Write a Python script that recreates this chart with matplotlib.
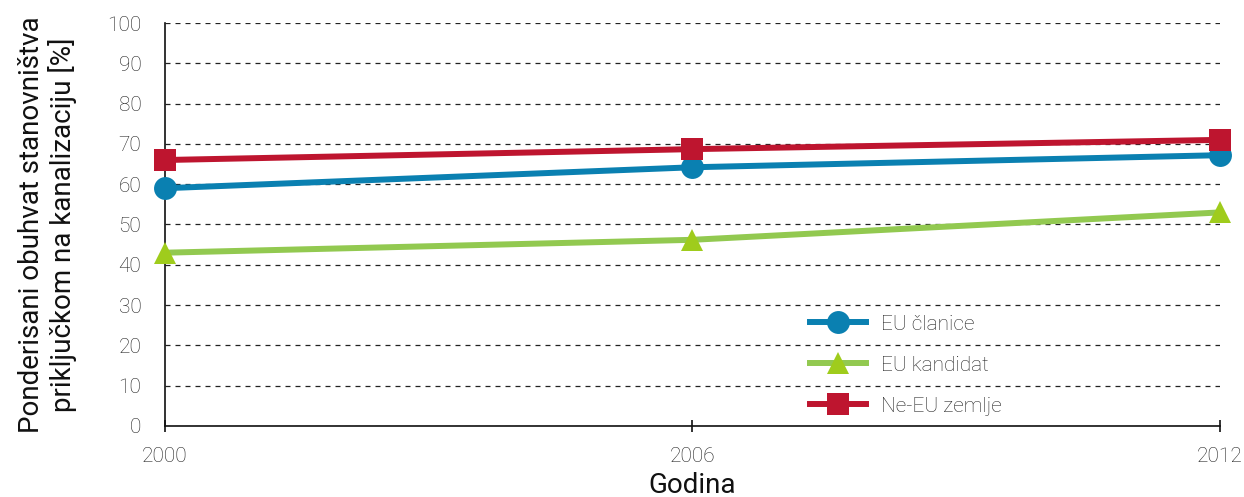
import matplotlib
matplotlib.use("Agg")
import matplotlib.pyplot as plt

plt.rcParams['font.family'] = ['Roboto', 'DejaVu Sans']

years = [2000, 2006, 2012]
eu_clanice = [59, 64.2, 67.2]
eu_kandidat = [43, 46.2, 53]
ne_eu = [66, 68.7, 71]

series_labels = ["EU članice", "EU kandidat", "Ne-EU zemlje"]
y_ticks = list(range(0, 101, 10))

blue = "#0a80b1"
green_line = "#92c950"
green_marker = "#9fcc1c"
red = "#be152f"

fig = plt.figure(figsize=(12.44, 4.97), dpi=100)
ax = fig.add_axes([0.1326, 0.1429, 0.8481, 0.8108])

lw = 4.3
ms = 16.5
common = dict(lw=lw, markersize=ms, zorder=3, clip_on=False)
ax.plot(years, eu_clanice, color=blue, marker='o',
        markerfacecolor=blue, markeredgecolor=blue, markeredgewidth=0,
        label=series_labels[0], **common)
ax.plot(years, eu_kandidat, color=green_line, marker='^',
        markerfacecolor=green_marker, markeredgecolor=green_marker, markeredgewidth=0,
        label=series_labels[1], **common)
ax.plot(years, ne_eu, color=red, marker='s',
        markerfacecolor=red, markeredgecolor=red, markeredgewidth=0,
        label=series_labels[2], **common)

ax.set_xlim(years[0], years[-1])
ax.set_ylim(0, 100)
ax.set_xticks(years)
ax.set_yticks(y_ticks)
ax.tick_params(axis='y', length=0, labelsize=15, colors='#222222', pad=17)
ax.tick_params(axis='x', length=8, direction='inout', width=1.2, color='#111111',
               labelsize=15, labelcolor='#222222', pad=11)
for lab in ax.get_xticklabels() + ax.get_yticklabels():
    lab.set_fontweight('light')

ax.grid(axis='y', linestyle=(0, (4, 4)), color='#222222', lw=0.9)
ax.set_axisbelow(True)
for side in ('top', 'right'):
    ax.spines[side].set_visible(False)
for side in ('left', 'bottom'):
    ax.spines[side].set_color('#111111')
    ax.spines[side].set_linewidth(1.2)

ax.set_xlabel("Godina", fontsize=20, color='#111111')
ax.xaxis.label.set_va('baseline')
ax.xaxis.set_label_coords(0.5, -0.166)
ax.set_ylabel("Ponderisani obuhvat stanovništva\npriključkom na kanalizaciju [%]",
              fontsize=20, color='#111111', labelpad=22, linespacing=1.1)

leg = ax.legend(loc='center left', bbox_to_anchor=(0.611, 0.151), frameon=False,
                fontsize=15, handlelength=2.7, labelspacing=1.05, handletextpad=0.75,
                borderpad=0, borderaxespad=0)
for t in leg.get_texts():
    t.set_color('#222222')
    t.set_fontweight('light')

fig.savefig("out.png", dpi=100)
